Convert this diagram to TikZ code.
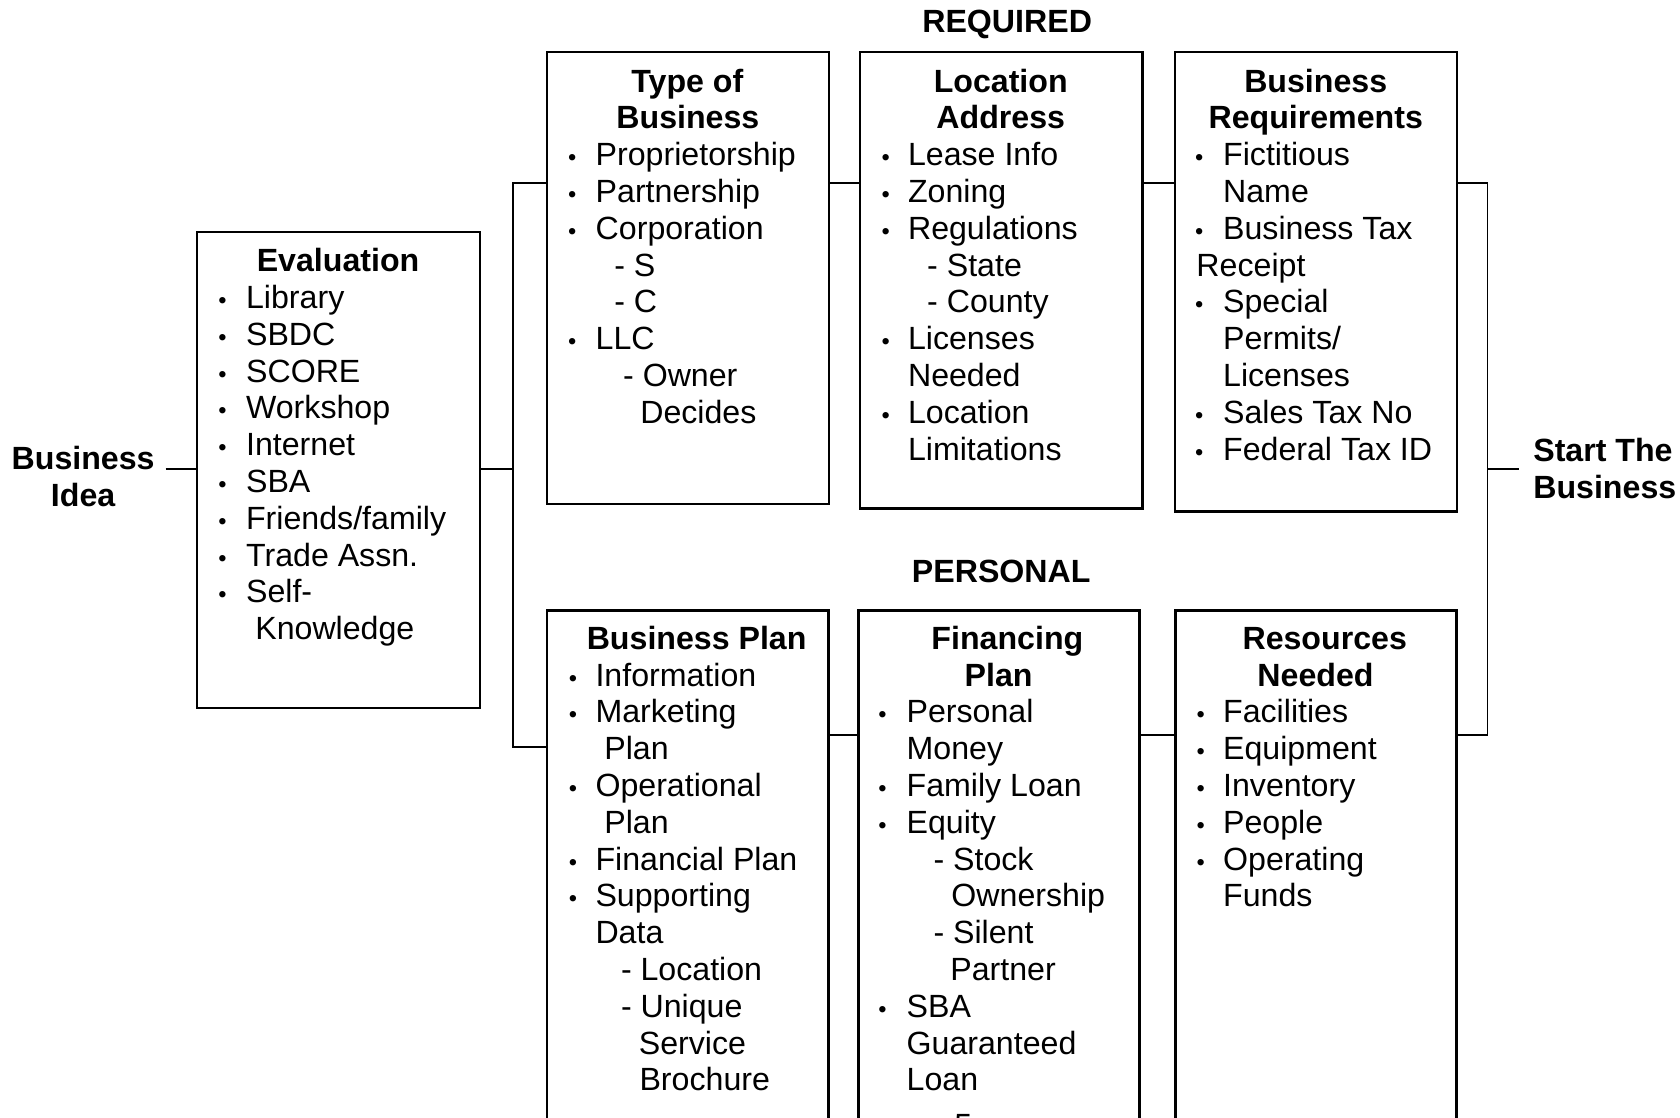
\documentclass[tikz,border=0pt]{standalone}
\usepackage{fontspec}
\setmainfont{Liberation Sans}
\newdimen\pxu \pxu=0.5pt
\newcommand\Rs{\rule{0pt}{12pt}}
\newcommand\Dot{{\fontsize{11pt}{11pt}\selectfont\textbullet}}
\newcommand\Ln[2]{\hbox to 0pt{\Rs\hspace*{#1\pxu}#2\hss}}
\newcommand\Ct[2]{\hbox to 0pt{\Rs\hspace*{#1\pxu}\hbox to 0pt{\hss\bfseries #2\hss}\hss}}
\newcommand\Bl[3]{\hbox to 0pt{\Rs\hspace*{#1\pxu}\hbox to 0pt{\hss\Dot\hss}\hspace*{\dimexpr #2\pxu-#1\pxu\relax}#3\hss}}
\newcommand\Lines[1]{\vbox{\lineskiplimit=-\maxdimen\baselineskip=17.175pt #1}}
\newcommand\Fnt{\fontsize{15pt}{17.175pt}\selectfont}
\tikzset{
  bx/.style={draw, line width=1.2pt, rectangle, inner sep=0pt, anchor=north west},
  tx/.style={inner sep=0pt, outer sep=0pt, anchor=north west},
  lbl/.style={font=\Fnt\bfseries, anchor=base, inner sep=0pt},
  conn/.style={line width=0.8pt}
}
\begin{document}
\begin{tikzpicture}[x=0.5pt, y=-0.5pt, font=\Fnt]
\useasboundingbox (0,0) rectangle (1568,1043.46);
% boxes
\node[bx, minimum width=132pt,   minimum height=222.15pt] (ev) at (182.7,215.3) {};
\node[bx, minimum width=131.5pt, minimum height=210.95pt] (tb) at (509.5,47.3) {};
\node[bx, minimum width=131.7pt, minimum height=213.1pt]  (la) at (801.6,47.3) {};
\node[bx, minimum width=131.6pt, minimum height=214.35pt] (br) at (1095.5,47.3) {};
\node[bx, minimum width=131.25pt, minimum height=251pt] (bp) at (509.5,568.4) {};
\node[bx, minimum width=131.25pt, minimum height=251pt] (fp) at (800,568.4) {};
\node[bx, minimum width=131.3pt, minimum height=251pt] (rn) at (1095.8,568.4) {};
% box texts
\node[tx] (evT) at (182.7,229.6) {\Lines{%
\Ct{131.8}{Evaluation}%
\Bl{24}{46}{Library}%
\Bl{24}{46}{SBDC}%
\Bl{24}{46}{SCORE}%
\Bl{24}{46}{Workshop}%
\Bl{24}{46}{Internet}%
\Bl{24}{46}{SBA}%
\Bl{24}{46}{Friends/family}%
\Bl{24}{46}{Trade Assn.}%
\Bl{24}{46}{Self-}%
\Ln{54.6}{Knowledge}}};
\node[tx] (tbT) at (509.5,61.9) {\Lines{%
\Ct{131}{Type of}%
\Ct{131.5}{Business}%
\Bl{23.5}{45.5}{Proprietorship}%
\Bl{23.5}{45.5}{Partnership}%
\Bl{23.5}{45.5}{Corporation}%
\Ln{62.8}{- S}%
\Ln{62.8}{- C}%
\Bl{23.5}{45.5}{LLC}%
\Ln{71.1}{- Owner}%
\Ln{87.1}{Decides}}};
\node[tx] (laT) at (801.6,61.9) {\Lines{%
\Ct{131.4}{Location}%
\Ct{131.4}{Address}%
\Bl{24}{44.9}{Lease Info}%
\Bl{24}{44.9}{Zoning}%
\Bl{24}{44.9}{Regulations}%
\Ln{62.8}{- State}%
\Ln{62.8}{- County}%
\Bl{24}{44.9}{Licenses}%
\Ln{44.9}{Needed}%
\Bl{24}{44.9}{Location}%
\Ln{44.9}{Limitations}}};
\node[tx] (brT) at (1095.5,61.9) {\Lines{%
\Ct{131.5}{Business}%
\Ct{131.5}{Requirements}%
\Bl{22.7}{45.1}{Fictitious}%
\Ln{45.1}{Name}%
\Bl{22.7}{45.1}{Business Tax}%
\Ln{20.2}{Receipt}%
\Bl{22.7}{45.1}{Special}%
\Ln{45.1}{Permits/}%
\Ln{45.1}{Licenses}%
\Bl{22.7}{45.1}{Sales Tax No}%
\Bl{22.7}{45.1}{Federal Tax ID}}};
\node[tx] (bpT) at (509.5,582) {\Lines{%
\Ct{139.7}{Business Plan}%
\Bl{24.4}{45.3}{Information}%
\Bl{24.4}{45.3}{Marketing}%
\Ln{53.6}{Plan}%
\Bl{24.4}{45.3}{Operational}%
\Ln{53.6}{Plan}%
\Bl{24.4}{45.3}{Financial Plan}%
\Bl{24.4}{45.3}{Supporting}%
\Ln{45.3}{Data}%
\Ln{69.1}{- Location}%
\Ln{69.1}{- Unique}%
\Ln{85.8}{Service}%
\Ln{86.4}{Brochure}}};
\node[tx] (fpT) at (800,582) {\Lines{%
\Ct{139.2}{Financing}%
\Ct{131}{Plan}%
\Bl{22.7}{45.2}{Personal}%
\Ln{45.2}{Money}%
\Bl{22.7}{45.2}{Family Loan}%
\Bl{22.7}{45.2}{Equity}%
\Ln{70.3}{- Stock}%
\Ln{87}{Ownership}%
\Ln{70.3}{- Silent}%
\Ln{86}{Partner}%
\Bl{22.7}{45.2}{SBA}%
\Ln{45.2}{Guaranteed}%
\Ln{45.2}{Loan}}};
\node[tx] (rnT) at (1095.8,582) {\Lines{%
\Ct{139.6}{Resources}%
\Ct{131}{Needed}%
\Bl{23.8}{44.8}{Facilities}%
\Bl{23.8}{44.8}{Equipment}%
\Bl{23.8}{44.8}{Inventory}%
\Bl{23.8}{44.8}{People}%
\Bl{23.8}{44.8}{Operating}%
\Ln{44.8}{Funds}}};
% labels
\node[lbl] (req) at (940,30) {REQUIRED};
\node[lbl] (pers) at (934.5,544) {PERSONAL};
\node[font=\Fnt\bfseries, align=center, anchor=north, inner sep=5pt] (idea) at (77.6,404) {\Rs Business\\Idea};
\node[font=\Fnt\bfseries, align=left, anchor=north west, inner sep=6.5pt] (start) at (1417.7,393.5) {\Rs Start The\\Business};
\node[anchor=base, inner sep=0pt] (pg) at (899,1060.5) {5};
% junction coordinates
\coordinate (jtop) at (0,170.5);
\coordinate (jmid) at (0,437.5);
\coordinate (jbot) at (0,686);
\coordinate (jbl) at (0,697.5);
\coordinate (lb) at (478.5,437.5);
\coordinate (rb) at (1388.2,437.5);
% connectors
\draw[conn] (idea.east |- jmid) -- (ev.west |- jmid);
\draw[conn] (ev.east |- jmid) -- (lb);
\draw[conn] (tb.west |- jtop) -| (lb) |- (bp.west |- jbl);
\draw[conn] (tb.east |- jtop) -- (la.west |- jtop);
\draw[conn] (la.east |- jtop) -- (br.west |- jtop);
\draw[conn] (bp.east |- jbot) -- (fp.west |- jbot);
\draw[conn] (fp.east |- jbot) -- (rn.west |- jbot);
\draw[conn] (br.east |- jtop) -| (rb) |- (rn.east |- jbot);
\draw[conn] (rb) -- (start.west |- rb);
\end{tikzpicture}
\end{document}
